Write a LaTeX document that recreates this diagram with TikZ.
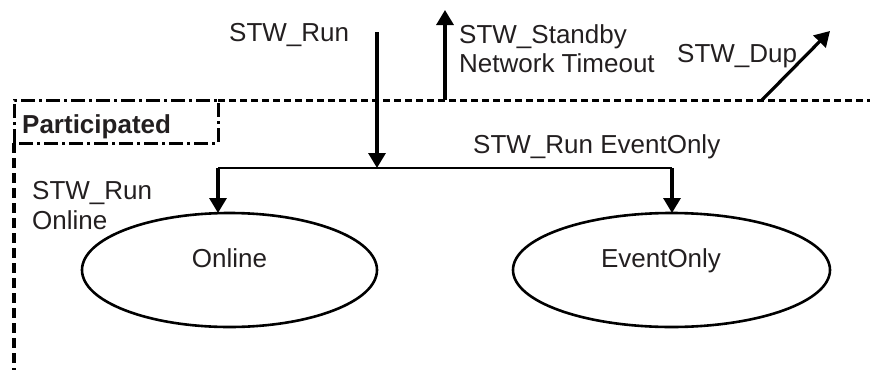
\documentclass[tikz,border=0pt]{standalone}
\usepackage{fontspec}
\setmainfont{Liberation Sans}
\usetikzlibrary{arrows.meta,shapes.geometric}
\definecolor{txt}{HTML}{231F20}
\begin{document}
\begin{tikzpicture}[x=1pt,y=-1pt,
  lbl/.style={font=\fontsize{26}{30}\selectfont, inner sep=0pt, anchor=base west, text=txt},
  arr/.style={line width=3.2pt, -{Triangle[length=15pt,width=17pt]}},
  state/.style={ellipse, draw, line width=2.6pt, outer sep=0pt, inner sep=0pt},
  bus/.style={line width=2pt},
  dashline/.style={line width=3pt, dash pattern=on 7pt off 4pt},
  leftdash/.style={line width=3.2pt, dash pattern=on 10pt off 5pt},
  dashdot/.style={line width=3pt, dash pattern=on 14pt off 4pt on 3pt off 4pt}
]
\useasboundingbox (0,0) rectangle (870,370);

% boundary of Participated
\draw[dashline] (218,100) -- (870,100);
\draw[dashdot] (14,143) -- (14,100) -- (218,100) -- (218,143) -- cycle;
\draw[leftdash] (14,143) -- (14,370);

% states
\node[state, minimum width=295pt, minimum height=114pt] (online) at (229.5,270) {};
\node[state, minimum width=317pt, minimum height=114pt] (evt) at (671.5,270) {};
\node[lbl, anchor=base] (onlinetxt) at (229.5,267) {Online};
\node[lbl, anchor=base] (evttxt) at (661,267) {EventOnly};

% coordinates
\coordinate (runtop) at (377,32);
\coordinate (split) at (377,168);
\coordinate (lft) at (218,168);
\coordinate (rgt) at (672,168);
\coordinate (sbbase) at (445,100);
\coordinate (sbtip) at (445,10);
\coordinate (dupbase) at (762,100);
\coordinate (duptip) at (830,31);

% connectors
\draw[arr] (runtop) -- (split);
\draw[bus] (lft) -- (rgt);
\draw[arr] (lft) -- (lft |- online.north);
\draw[arr] (rgt) -- (rgt |- evt.north);
\draw[arr] (sbbase) -- (sbtip);
\draw[arr] (dupbase) -- (duptip);

% labels
\node[lbl] (run) at (229,41) {STW\_Run};
\node[lbl] (sb1) at (459,43) {STW\_Standby};
\node[lbl] (sb2) at (459,72) {Network Timeout};
\node[lbl] (dup) at (677,62) {STW\_Dup};
\node[lbl, font=\fontsize{26}{30}\selectfont\bfseries] (part) at (22,133) {Participated};
\node[lbl] (reo) at (473,153) {STW\_Run EventOnly};
\node[lbl] (ro1) at (32,199) {STW\_Run};
\node[lbl] (ro2) at (32,229) {Online};
\end{tikzpicture}
\end{document}
